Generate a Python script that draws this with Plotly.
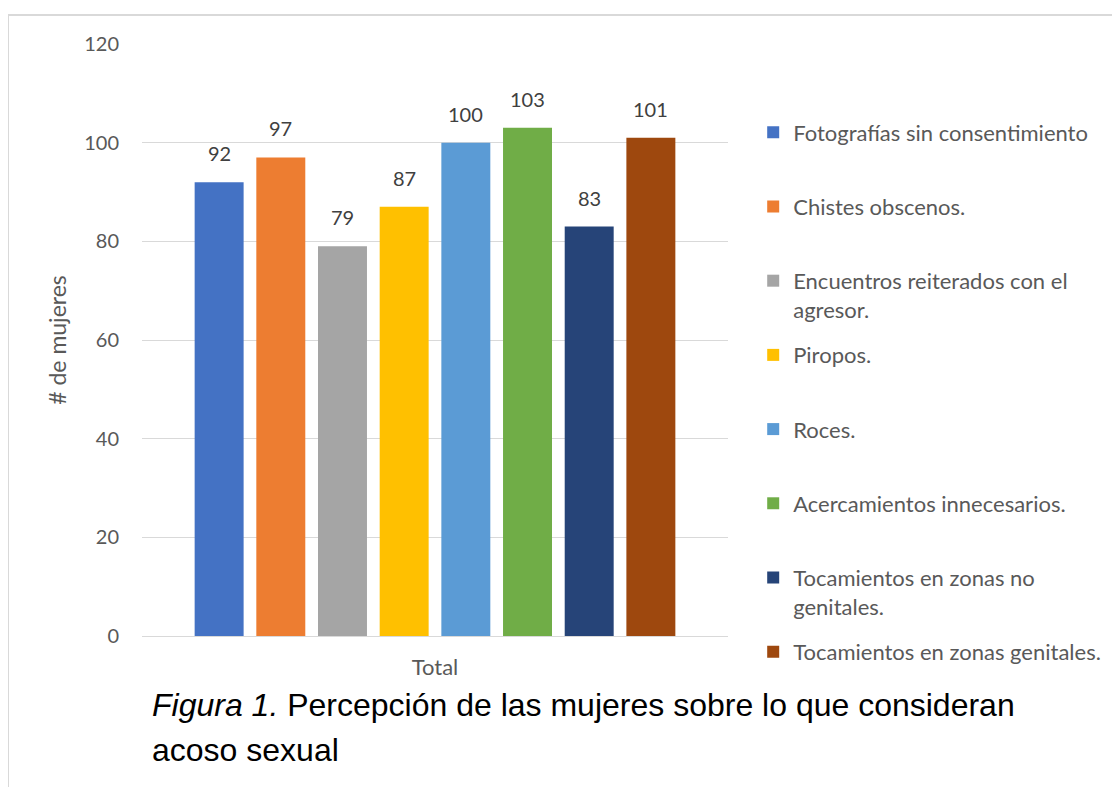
import plotly.graph_objects as go

# Datos de la figura
categoria = ["Total"]
series = [
    "Fotografías sin consentimiento",
    "Chistes obscenos.",
    "Encuentros reiterados con el<br>agresor.",
    "Piropos.",
    "Roces.",
    "Acercamientos innecesarios.",
    "Tocamientos en zonas no<br>genitales.",
    "Tocamientos en zonas genitales.",
]
valores = [92, 97, 79, 87, 100, 103, 83, 101]
colores = ["#4472C4", "#ED7D31", "#A5A5A5", "#FFC000",
           "#5B9BD5", "#70AD47", "#264478", "#9E480E"]
ticks_y = [0, 20, 40, 60, 80, 100, 120]

fuente = "Lato, Carlito, Calibri, sans-serif"
gris = "#595959"

# geometria del area de trazado
ancho, alto = 1120, 787
izq, arr, w_plot, h_plot = 134, 36, 586, 592
bargap, bargroupgap = 0.158, 0.206

fig = go.Figure()
for i, (nombre, v) in enumerate(zip(series, valores)):
    # todas las entradas de la leyenda con dos lineas para que queden equiespaciadas
    etiqueta = nombre if "<br>" in nombre else nombre + "<br>\u00a0"
    fig.add_trace(go.Bar(
        x=categoria, y=[v], name=etiqueta, legendgroup=str(i),
        marker=dict(color=colores[i], line=dict(width=0)),
        hoverinfo="name+y",
    ))

# etiquetas de datos sobre cada barra
paso = w_plot * (1 - bargap) / len(series)
for i, v in enumerate(valores):
    fig.add_annotation(x=categoria[0], y=v, xref="x", yref="y", text=str(v),
                       showarrow=False, yanchor="bottom", yshift=15,
                       xshift=(i - (len(series) - 1) / 2) * paso,
                       font=dict(family=fuente, size=20, color="#404040"))

fig.update_layout(
    width=ancho, height=alto,
    margin=dict(l=izq, r=ancho - izq - w_plot, t=arr, b=alto - arr - h_plot),
    paper_bgcolor="white", plot_bgcolor="white",
    barmode="group", bargap=bargap, bargroupgap=bargroupgap,
    font=dict(family=fuente, color=gris, size=20),
    showlegend=True,
    legend=dict(x=1.043, xanchor="left", y=0.886, yanchor="top",
                valign="top", tracegroupgap=14,
                font=dict(family=fuente, size=22, color=gris)),
)

fig.update_xaxes(showgrid=False, showline=True, linecolor="#d9d9d9", linewidth=1,
                 ticks="", tickfont=dict(size=22, color=gris), ticklabelstandoff=12)
fig.update_yaxes(range=[0, 120], tickvals=ticks_y, showgrid=True, gridcolor="#d9d9d9",
                 gridwidth=1, zeroline=False, showline=False, ticks="",
                 tickfont=dict(size=20, color=gris), ticklabelstandoff=22,
                 title=dict(text="# de mujeres", font=dict(size=23, color=gris), standoff=11))

# marco exterior del grafico (solo borde superior e izquierdo visibles)
fig.add_shape(type="line", xref="paper", yref="paper", x0=-0.2287, x1=1.7, y0=1.049, y1=1.049,
              line=dict(color="#d9d9d9", width=2))
fig.add_shape(type="line", xref="paper", yref="paper", x0=-0.2287, x1=-0.2287, y0=1.049, y1=-0.3,
              line=dict(color="#d9d9d9", width=2))

# pie de figura
pie = dict(family="Liberation Sans, Arial, sans-serif", size=32, color="black")
fig.add_annotation(text="<i>Figura 1.</i> Percepción de las mujeres sobre lo que consideran",
                   xref="paper", yref="paper", x=0.0137, y=-0.1166, xanchor="left", yanchor="middle",
                   showarrow=False, font=pie, align="left")
fig.add_annotation(text="acoso sexual",
                   xref="paper", yref="paper", x=0.0137, y=-0.1926, xanchor="left", yanchor="middle",
                   showarrow=False, font=pie, align="left")

fig.write_html("out.html")
